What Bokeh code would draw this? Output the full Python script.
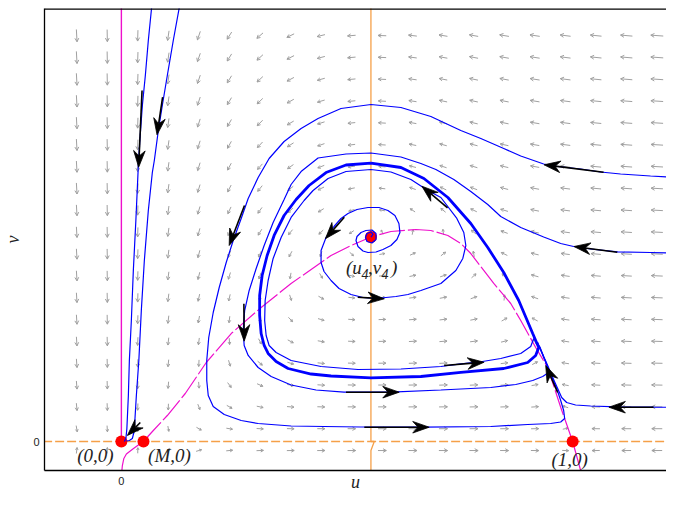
import numpy as np
from bokeh.plotting import figure
from bokeh.models import Range1d, FixedTicker, Span
from bokeh.embed import file_html
from bokeh.resources import INLINE
from bokeh.core.properties import value

# ---------------- data ----------------
M = 0.049
u4, v4 = 0.553, 0.4524
eq_u = [0.0, M, 1.0, u4]
eq_v = [0.0, 0.0, 0.0, v4]

# prey nullcline
null_u = [0.0011, 0.0022, 0.0055, 0.0111, 0.0254, 0.0376, 0.0487, 0.0708, 0.1018, 0.1416, 0.1881,
          0.2434, 0.3097, 0.3761, 0.4646, 0.5088, 0.5531, 0.5973, 0.6527, 0.6858, 0.7235, 0.7522,
          0.7743, 0.8252, 0.8628, 0.8850, 0.9181, 0.9447, 0.9735, 1.0000, 1.0177]
null_v = [-0.0642, -0.0531, -0.0376, -0.0277, -0.0166, -0.0077, 0.0, 0.0243, 0.0575, 0.1062, 0.1748,
          0.2389, 0.2965, 0.3496, 0.4115, 0.4336, 0.4524, 0.4646, 0.4690, 0.4668, 0.4558, 0.4381,
          0.4159, 0.3496, 0.3053, 0.2677, 0.2080, 0.1637, 0.0759, 0.0, -0.0642]
# prey nullcline u = 0
prey0_u = [0.0, 0.0]
prey0_v = [0.0, 0.96]
# predator nullclines
pred_u = [u4, u4, 0.5604, u4, u4]
pred_v = [0.96, 0.0, 0.0, -0.0199, -0.07]
pred0_u = [-0.2, 1.3]
pred0_v = [0.0, 0.0]

# trajectories
T1_u = [0.0670, 0.0597, 0.0531, 0.0465, 0.0409, 0.0376, 0.0321, 0.0265, 0.0221, 0.0177, 0.0155, 0.0122, 0.0100, 0.0066]
T1_v = [0.960, 0.8872, 0.8097, 0.7434, 0.6659, 0.6106, 0.4889, 0.3783, 0.2677, 0.1792, 0.1018, 0.0288, 0.0066, 0.0]
T2_u = [0.1283, 0.1150, 0.1018, 0.0907, 0.0819, 0.0730, 0.0686, 0.0597, 0.0509, 0.0442, 0.0387, 0.0332, 0.0299, 0.0277, 0.0243, 0.0177, 0.0111]
T2_v = [0.960, 0.8872, 0.8097, 0.7434, 0.6881, 0.6217, 0.5951, 0.5111, 0.4004, 0.2898, 0.1792, 0.1018, 0.0465, 0.0199, 0.0066, 0.0022, 0.0011]
T3_u = [1.2478, 1.1726, 1.1062, 1.0619, 1.0177, 0.9668, 0.9358, 0.8850, 0.8473, 0.7965, 0.7522, 0.6858, 0.6195, 0.5531,
        0.4867, 0.4358, 0.3982, 0.3606, 0.3274, 0.3031, 0.2810, 0.2655, 0.2478, 0.2323, 0.2168, 0.2035, 0.1936, 0.1892,
        0.1892, 0.1925, 0.2035, 0.2279, 0.2655, 0.3031, 0.3761, 0.4491, 0.5310, 0.6704, 0.8186, 0.9004, 0.9513, 0.9735,
        0.9823, 0.9801, 0.9735, 0.9646, 0.9535, 0.9425, 0.9314, 0.9226]
T3_v = [0.5830, 0.5874, 0.5918, 0.5962, 0.6029, 0.6084, 0.6139, 0.6316, 0.6482, 0.6704, 0.6881, 0.7190, 0.7389, 0.7456,
        0.7367, 0.7146, 0.6925, 0.6637, 0.6261, 0.5841, 0.5376, 0.4934, 0.4447, 0.3960, 0.3407, 0.2854, 0.2301, 0.1792,
        0.1350, 0.1018, 0.0774, 0.0597, 0.0465, 0.0398, 0.0343, 0.0332, 0.0321, 0.0316, 0.0332, 0.0376, 0.0398, 0.0431,
        0.0509, 0.0686, 0.0907, 0.1173, 0.1438, 0.1704, 0.1969, 0.2190]
T4_u = [1.2478, 1.1726, 1.0996, 1.0398, 1.0022, 0.9735, 0.9358, 0.8850, 0.8407, 0.8119, 0.7743, 0.7367, 0.6969, 0.6637,
        0.6195, 0.5531, 0.4978, 0.4358, 0.3982, 0.3761, 0.3606, 0.3363, 0.3164, 0.2987, 0.2832, 0.2732, 0.2699, 0.2721,
        0.2810, 0.3031, 0.3319, 0.3761, 0.4314, 0.4934, 0.5973, 0.7080, 0.8186, 0.8739, 0.9115, 0.9336, 0.9469, 0.9425,
        0.9336, 0.9248]
T4_v = [0.4159, 0.4181, 0.4197, 0.4259, 0.4314, 0.4381, 0.4524, 0.4735, 0.4978, 0.5243, 0.5531, 0.5796, 0.6018, 0.6150,
        0.6294, 0.6383, 0.6361, 0.6272, 0.5973, 0.5686, 0.5354, 0.4845, 0.4336, 0.3827, 0.3341, 0.2898, 0.2456, 0.2124,
        0.1903, 0.1637, 0.1438, 0.1250, 0.1139, 0.1091, 0.1091, 0.1139, 0.1195, 0.1261, 0.1350, 0.1438, 0.1527, 0.1704,
        0.1925, 0.2124]
T5_u = [0.5531, 0.5575, 0.5531, 0.5442, 0.5409, 0.5442, 0.5553, 0.5642, 0.5642, 0.5553, 0.5420, 0.5310, 0.5221, 0.5199,
        0.5243, 0.5354, 0.5465, 0.5642, 0.5796, 0.5973, 0.6106, 0.6173, 0.6150, 0.6062, 0.5907, 0.5708, 0.5465, 0.5221,
        0.5022, 0.4867, 0.4712, 0.4535, 0.4425, 0.4425, 0.4491, 0.4646, 0.4823, 0.5088, 0.5354, 0.5642, 0.6084, 0.6350,
        0.6637, 0.7080, 0.7412, 0.7566, 0.7633, 0.7588, 0.7434, 0.7080, 0.6792, 0.6416, 0.5973, 0.5531, 0.4978, 0.4580,
        0.4248, 0.4049, 0.3761, 0.3540, 0.3363, 0.3252, 0.3186, 0.3175, 0.3208, 0.3274, 0.3429, 0.3761, 0.4425, 0.5243,
        0.6195, 0.7080, 0.7522, 0.7898, 0.8407, 0.8850, 0.9071, 0.9137]
T5_v = [0.4524, 0.4580, 0.4635, 0.4602, 0.4513, 0.4425, 0.4392, 0.4469, 0.4602, 0.4679, 0.4668, 0.4624, 0.4535, 0.4447,
        0.4314, 0.4215, 0.4181, 0.4192, 0.4248, 0.4336, 0.4469, 0.4624, 0.4823, 0.5000, 0.5111, 0.5177, 0.5177, 0.5133,
        0.5044, 0.4934, 0.4757, 0.4513, 0.4226, 0.3960, 0.3761, 0.3562, 0.3385, 0.3252, 0.3186, 0.3164, 0.3208, 0.3252,
        0.3341, 0.3496, 0.3783, 0.4049, 0.4336, 0.4624, 0.4934, 0.5398, 0.5553, 0.5796, 0.5962, 0.6018, 0.5973, 0.5819,
        0.5553, 0.5332, 0.4956, 0.4513, 0.4049, 0.3562, 0.3119, 0.2677, 0.2345, 0.2124, 0.1969, 0.1792, 0.1659, 0.1593,
        0.1604, 0.1659, 0.1719, 0.1754, 0.1836, 0.1947, 0.2102, 0.2279]
T6_u = [1.2478, 1.1792, 1.0996, 1.0398, 1.0066, 0.9867, 0.9757, 0.9668, 0.9558, 0.9447, 0.9358, 0.9270]
T6_v = [0.0757, 0.0759, 0.0768, 0.0785, 0.0808, 0.0863, 0.0973, 0.1173, 0.1416, 0.1681, 0.1881, 0.2102]
# limit cycle
C_u = [0.5531, 0.4978, 0.4535, 0.4159, 0.3872, 0.3606, 0.3385, 0.3230, 0.3119, 0.3064, 0.3064, 0.3097, 0.3164, 0.3252,
       0.3429, 0.3695, 0.4204, 0.4646, 0.5531, 0.6637, 0.7522, 0.8473, 0.9004, 0.9181, 0.9248, 0.9115, 0.8805, 0.8473,
       0.8119, 0.7743, 0.7235, 0.6704, 0.6195, 0.5531]
C_v = [0.6157, 0.6117, 0.5951, 0.5664, 0.5354, 0.5000, 0.4558, 0.4115, 0.3673, 0.3230, 0.2788, 0.2389, 0.2124, 0.1947,
       0.1770, 0.1615, 0.1493, 0.1449, 0.1409, 0.1438, 0.1527, 0.1615, 0.1748, 0.1903, 0.2080, 0.2389, 0.3119, 0.3739,
       0.4292, 0.4823, 0.5398, 0.5819, 0.6062, 0.6157]

# direction arrows on the trajectories (tail -> tip)
arr_tail_u = [0.0458, 0.0914, 0.0420, 0.2728, 0.2715, 0.4978, 0.5383, 1.0686, 1.0989, 1.1792, 0.9668, 0.7228, 0.7153, 0.5237, 0.4940]
arr_tail_v = [0.7765, 0.7617, 0.0420, 0.5221, 0.3046, 0.1091, 0.0316, 0.5958, 0.4188, 0.0759, 0.1084, 0.5170, 0.1681, 0.3192, 0.4962]
arr_tip_u = [0.0383, 0.0790, 0.0133, 0.2389, 0.2721, 0.6157, 0.6821, 0.9365, 1.0029, 1.0803, 0.9403, 0.6659, 0.8038, 0.5825, 0.4520]
arr_tip_v = [0.6069, 0.6785, 0.0133, 0.4336, 0.2219, 0.1091, 0.0316, 0.6122, 0.4314, 0.0759, 0.1681, 0.5648, 0.1754, 0.3157, 0.4485]

# direction-field sampling grid
field_u = np.linspace(-0.099, 1.187, 20)
field_v = np.linspace(-0.02, 0.898, 20)

# ---------------- figure ----------------
PX = 452.0  # px per data unit on both axes
W, H = 666, 496
BL, BT, BB = 43, 8, 26
u0 = -77 / PX
v0 = -29 / PX
p = figure(width=W, height=H, output_backend="svg", toolbar_location=None,
           x_range=Range1d(u0, u0 + (W - BL) / PX), y_range=Range1d(v0, v0 + (H - BT - BB) / PX),
           min_border_left=BL, min_border_right=0, min_border_top=BT, min_border_bottom=BB,
           background_fill_color="white", border_fill_color="white")
p.outline_line_color = None
p.grid.visible = False

for ax, lab in ((p.xaxis, "u"), (p.yaxis, "v")):
    ax.ticker = FixedTicker(ticks=[0])
    ax.axis_label = lab
    ax.axis_label_text_font = "Liberation Serif"
    ax.axis_label_text_font_style = "italic"
    ax.axis_label_text_font_size = "18px"
    ax.axis_label_text_color = "#222222"
    ax.major_label_text_font = "Liberation Sans"
    ax.major_label_text_font_size = "11px"
    ax.major_label_text_color = "#222222"
    ax.major_tick_line_color = None
    ax.minor_tick_line_color = None
    ax.major_tick_out = 0
    ax.major_tick_in = 0
    ax.minor_tick_out = 0
    ax.minor_tick_in = 0
    ax.axis_line_color = "black"
    ax.axis_line_width = 1.3
p.xaxis.major_label_standoff = 6
p.xaxis.axis_label_standoff = -16
p.yaxis.major_label_standoff = 5
p.yaxis.axis_label_standoff = 7
p.add_layout(Span(location=p.y_range.end, dimension="width", line_color="black", line_width=2.6))

# direction field
def prey_null(u):
    u = np.asarray(u, float)
    nu, nv = np.array(null_u), np.array(null_v)
    out = np.interp(u, nu, nv)
    slope = (nv[-1] - nv[-2]) / (nu[-1] - nu[-2])
    return np.where(u > nu[-1], nv[-1] + slope * (u - nu[-1]), out)

FU, FV = np.meshgrid(field_u, field_v)
DU = FU * (prey_null(FU) - FV)
DV = 0.3 * FV * (FU - u4) / (np.maximum(FU, 0) + 0.1)
MAG = np.hypot(DU, DV)
LEN = (3.0 + 9.5 * (MAG / MAG.max()) ** 0.3) / PX
xs, ys = [], []
ca, sa = np.cos(0.5), np.sin(0.5)
for cu, cv, du, dv, m, L in zip(FU.ravel(), FV.ravel(), DU.ravel(), DV.ravel(), MAG.ravel(), LEN.ravel()):
    if m == 0:
        continue
    dx, dy = du / m, dv / m
    tu, tv = cu - 0.5 * L * dx, cv - 0.5 * L * dy
    hu, hv = cu + 0.5 * L * dx, cv + 0.5 * L * dy
    h = min(4.0 / PX, 0.45 * L)
    b1 = (hu - h * (dx * ca - dy * sa), hv - h * (dy * ca + dx * sa))
    b2 = (hu - h * (dx * ca + dy * sa), hv - h * (dy * ca - dx * sa))
    xs += [[tu, hu], [b1[0], hu, b2[0]]]
    ys += [[tv, hv], [b1[1], hv, b2[1]]]
p.multi_line(xs, ys, line_color="#a0a0a0", line_width=1)

# nullclines
MAG_C = "#ee10cc"
ORA_C = "#f5a048"
iM = null_v.index(0.0)
i1 = len(null_v) - 1 - null_v[::-1].index(0.0)
p.line(null_u[:iM + 1], null_v[:iM + 1], line_color=MAG_C, line_width=1.2)
p.line(null_u[iM:i1 + 1], null_v[iM:i1 + 1], line_color=MAG_C, line_width=1.2, line_dash="26 3")
p.line(null_u[i1:], null_v[i1:], line_color=MAG_C, line_width=1.2)
p.line(prey0_u, prey0_v, line_color=MAG_C, line_width=1.4)
p.line(pred0_u, pred0_v, line_color=ORA_C, line_width=1.3, line_dash="9 3")
p.line(pred_u, pred_v, line_color=ORA_C, line_width=1.3)

# equilibria
p.scatter(eq_u, eq_v, size=12, fill_color="#ff0000", line_color=None)

# trajectories
BLUE = "#0000ff"
for tu, tv in ((T1_u, T1_v), (T2_u, T2_v), (T3_u, T3_v), (T4_u, T4_v), (T5_u, T5_v), (T6_u, T6_v)):
    p.line(tu, tv, line_color=BLUE, line_width=1.2)
p.line(C_u, C_v, line_color=BLUE, line_width=2.8)

# arrow heads on trajectories
HL, HW, NOTCH = 16.5 / PX, 5.8 / PX, 0.68
hx, hy, sx0, sy0, sx1, sy1 = [], [], [], [], [], []
for a, b, c, d in zip(arr_tail_u, arr_tail_v, arr_tip_u, arr_tip_v):
    L = np.hypot(c - a, d - b)
    dx, dy = (c - a) / L, (d - b) / L
    nx, ny = -dy, dx
    bu, bv = c - HL * dx, d - HL * dy
    ku, kv = c - NOTCH * HL * dx, d - NOTCH * HL * dy
    hx.append([c, bu + HW * nx, ku, bu - HW * nx])
    hy.append([d, bv + HW * ny, kv, bv - HW * ny])
    sx0.append(a); sy0.append(b); sx1.append(ku); sy1.append(kv)
p.segment(sx0, sy0, sx1, sy1, line_color="black", line_width=1.6)
p.patches(hx, hy, fill_color="black", line_color="black", line_width=0.8)

# labels
LF = value("Liberation Serif")
def lab(x, y, t, dx, dy, size="19px", align="center"):
    p.text([x], [y], text=[t], text_font=LF, text_font_style="italic", text_font_size=size,
           text_align=align, text_baseline="alphabetic", x_offset=dx, y_offset=dy, text_color="#222222")

lab(0.0, 0.0, "(0,0)", -26, 14)
lab(M, 0.0, "(M,0)", 26, 14)
lab(1.0, 0.0, "(1,0)", -3, 18)
lab(u4, v4, "(u", -25, 30, align="left")
lab(u4, v4, "4", -9.5, 36.5, size="14px", align="left")
lab(u4, v4, ",v", -3, 30, align="left")
lab(u4, v4, "4", 10.5, 36.5, size="14px", align="left")
lab(u4, v4, ")", 20, 30, align="left")

open("out.html", "w").write(file_html(p, INLINE))
